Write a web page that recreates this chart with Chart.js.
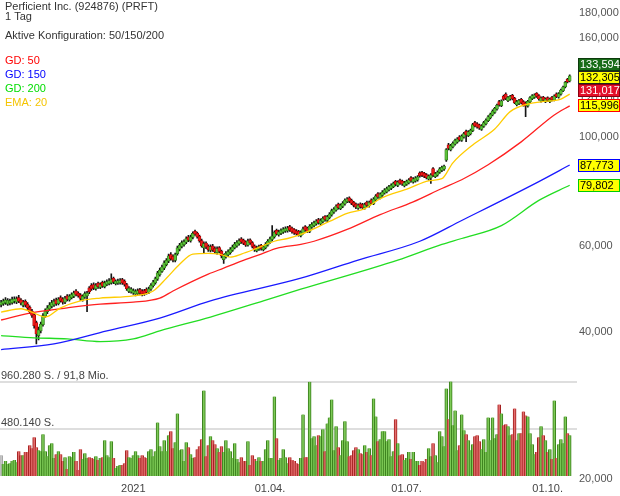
<!DOCTYPE html>
<html>
<head>
<meta charset="utf-8">
<script src="https://cdn.jsdelivr.net/npm/chart.js@4.4.0/dist/chart.umd.min.js"></script>
<style>
    html, body { margin: 0; padding: 0; background: #fff; }
    #wrap { width: 620px; height: 496px; position: relative; }
</style>
</head>
<body>
<div id="wrap"><canvas id="chart"></canvas></div>
<script>
// daily candles, oldest first
const opens = [
    45.4, 45.7, 45.9, 45.6, 45.8, 45.9, 46.2, 46.0, 47.0, 46.5,
    45.3, 46.2, 45.6, 44.9, 44.1, 43.4, 41.8, 39.3, 40.2, 41.4,
    43.1, 44.0, 44.6, 45.1, 45.4, 46.5, 45.7, 47.0, 46.7, 46.0,
    47.4, 46.5, 47.0, 47.3, 48.5, 48.0, 47.6, 46.5, 47.1, 47.4,
    49.2, 49.8, 50.0, 49.0, 50.3, 49.3, 50.5, 49.5, 50.0, 50.2,
    50.4, 51.5, 50.2, 50.3, 50.4, 51.2, 50.8, 50.0, 48.4, 48.3,
    48.0, 47.8, 47.9, 48.8, 48.5, 48.6, 48.9, 48.2, 48.9, 49.7,
    50.4, 51.3, 52.4, 53.2, 54.0, 54.9, 55.8, 57.6, 57.1, 56.0,
    57.8, 59.0, 59.8, 60.3, 61.0, 62.6, 61.4, 62.4, 64.2, 63.7,
    62.8, 61.5, 59.4, 60.8, 59.9, 58.7, 60.0, 59.3, 58.1, 59.5,
    58.5, 56.2, 57.0, 57.5, 58.1, 58.7, 59.5, 60.0, 60.6, 62.0,
    61.6, 61.1, 60.2, 61.7, 60.9, 60.0, 58.6, 59.0, 60.1, 58.9,
    59.4, 60.2, 61.0, 61.8, 62.6, 64.5, 63.2, 63.6, 64.0, 64.3,
    64.4, 65.7, 65.2, 64.8, 64.4, 64.2, 62.9, 63.7, 65.7, 65.2,
    64.2, 65.5, 66.0, 66.5, 67.9, 66.5, 67.2, 68.9, 67.6, 68.5,
    69.4, 70.3, 71.0, 73.0, 71.5, 72.2, 73.1, 73.9, 75.2, 74.4,
    73.6, 73.0, 71.6, 73.1, 72.9, 71.7, 73.7, 72.4, 74.5, 73.2,
    74.5, 76.7, 75.2, 76.1, 76.9, 77.4, 78.1, 78.6, 79.3, 81.3,
    79.7, 81.8, 81.4, 79.6, 80.1, 80.7, 82.7, 81.0, 81.4, 81.8,
    84.6, 84.8, 84.4, 83.9, 82.1, 82.6, 86.3, 83.1, 83.7, 84.8,
    85.6, 86.1, 89.8, 96.6, 94.3, 95.6, 96.9, 97.8, 100.3, 98.6,
    100.1, 102.9, 100.8, 101.7, 103.2, 107.2, 106.6, 106.0, 103.8, 105.3,
    106.6, 108.2, 109.6, 111.1, 112.5, 114.2, 118.4, 116.1, 121.4, 122.6,
    118.9, 119.8, 121.9, 120.2, 116.6, 117.3, 119.6, 118.3, 117.6, 115.9,
    118.2, 120.0, 120.7, 123.0, 121.8, 118.6, 120.9, 118.2, 120.6, 118.3,
    120.9, 119.2, 122.8, 120.8, 122.6, 124.5, 126.8, 131.4, 130.4
];
const highs = [
    46.4, 46.7, 47.0, 46.8, 46.7, 47.1, 47.2, 47.2, 47.5, 46.8,
    46.4, 46.5, 45.9, 45.2, 44.5, 43.7, 42.1, 40.9, 41.9, 43.6,
    44.6, 45.3, 45.9, 46.4, 46.7, 46.9, 47.0, 47.4, 47.0, 47.3,
    47.7, 47.7, 48.1, 48.5, 48.8, 48.3, 47.9, 47.6, 48.3, 48.4,
    49.5, 50.2, 50.4, 50.2, 50.6, 50.4, 50.8, 50.8, 51.1, 51.4,
    52.6, 51.8, 51.1, 51.3, 51.4, 51.5, 51.1, 50.3, 49.5, 49.3,
    49.0, 48.8, 49.0, 49.1, 48.8, 48.9, 49.2, 49.4, 50.2, 51.0,
    51.8, 53.2, 54.0, 54.8, 55.9, 56.5, 57.7, 58.1, 57.5, 58.0,
    59.9, 60.7, 61.4, 61.7, 62.6, 63.0, 63.1, 64.1, 64.6, 64.0,
    63.1, 61.9, 61.1, 61.1, 60.3, 60.3, 60.4, 59.7, 59.7, 59.8,
    58.8, 57.7, 58.4, 58.9, 59.5, 60.2, 61.0, 61.5, 62.0, 62.4,
    61.9, 61.4, 61.9, 62.0, 61.2, 60.3, 59.9, 60.2, 60.4, 60.1,
    60.9, 61.8, 62.5, 66.0, 64.4, 64.9, 64.6, 65.0, 65.4, 65.6,
    65.8, 66.1, 65.5, 65.1, 64.8, 64.5, 64.4, 65.5, 66.0, 65.5,
    66.3, 66.9, 67.4, 67.9, 68.3, 68.1, 68.8, 69.2, 69.3, 70.2,
    71.3, 71.8, 72.8, 73.4, 73.1, 73.9, 74.9, 75.3, 75.6, 74.8,
    74.0, 73.4, 73.1, 73.5, 73.3, 73.4, 74.1, 74.1, 74.9, 75.3,
    76.4, 77.1, 77.0, 77.8, 78.6, 79.1, 79.8, 80.3, 81.0, 81.7,
    81.5, 82.2, 81.8, 81.3, 81.8, 82.4, 83.1, 82.7, 83.1, 83.5,
    85.0, 85.2, 84.8, 84.3, 83.8, 84.3, 86.7, 84.8, 85.4, 86.7,
    87.3, 87.8, 94.9, 97.2, 96.8, 97.9, 99.2, 99.9, 100.8, 101.2,
    102.4, 103.5, 103.2, 104.0, 106.8, 107.8, 107.2, 106.5, 106.2, 107.8,
    109.1, 110.8, 112.1, 113.8, 115.2, 117.0, 119.0, 119.4, 122.0, 123.4,
    121.4, 121.9, 122.5, 120.7, 119.0, 119.6, 120.2, 118.9, 118.2, 119.1,
    121.2, 122.3, 122.8, 123.5, 122.3, 121.0, 121.4, 120.5, 121.1, 120.4,
    121.4, 122.2, 123.4, 123.5, 125.6, 127.4, 130.2, 132.0, 134.2
];
const lows = [
    45.0, 45.3, 45.5, 45.3, 45.4, 45.6, 45.8, 45.7, 45.9, 45.4,
    45.0, 45.0, 44.4, 43.6, 42.8, 40.7, 37.8, 38.5, 39.8, 41.1,
    42.8, 43.6, 44.2, 44.8, 45.1, 45.3, 45.4, 46.0, 45.6, 45.7,
    46.3, 46.2, 46.7, 47.0, 47.4, 47.1, 46.4, 46.2, 46.8, 44.0,
    47.9, 48.6, 48.8, 48.7, 49.1, 49.0, 49.3, 49.2, 49.7, 49.9,
    50.1, 50.2, 49.9, 50.0, 50.1, 50.0, 49.6, 48.6, 48.1, 48.0,
    47.7, 47.4, 47.6, 47.6, 47.4, 47.5, 47.8, 47.9, 48.6, 49.4,
    50.1, 51.0, 52.0, 52.9, 53.6, 54.6, 55.4, 56.1, 55.6, 55.6,
    57.4, 58.6, 59.4, 59.9, 60.6, 61.2, 61.0, 62.0, 63.0, 62.2,
    61.0, 59.6, 58.1, 59.2, 58.4, 58.3, 58.4, 57.8, 57.7, 58.0,
    56.7, 55.2, 56.6, 57.1, 57.7, 58.4, 59.1, 59.6, 60.2, 60.7,
    60.3, 59.8, 59.9, 60.4, 59.4, 58.4, 58.3, 58.7, 58.8, 58.6,
    59.1, 59.9, 60.7, 61.4, 62.2, 63.1, 62.8, 63.2, 63.6, 63.9,
    64.0, 64.2, 63.7, 63.3, 63.1, 62.8, 62.6, 63.4, 64.2, 63.8,
    63.8, 65.1, 65.6, 66.1, 66.4, 66.1, 66.8, 67.4, 67.2, 68.1,
    69.0, 69.9, 70.6, 71.3, 71.1, 71.8, 72.7, 73.5, 73.5, 72.8,
    72.1, 71.5, 71.2, 71.6, 71.3, 71.3, 72.1, 72.0, 72.8, 72.8,
    74.1, 75.0, 74.8, 75.7, 76.5, 77.0, 77.7, 78.2, 78.9, 79.6,
    79.3, 80.1, 79.7, 79.2, 79.7, 80.3, 81.0, 80.6, 81.0, 81.4,
    82.9, 83.1, 82.7, 82.2, 81.7, 80.5, 83.1, 82.7, 83.3, 84.4,
    85.1, 85.6, 89.3, 94.3, 93.8, 95.1, 96.4, 97.3, 98.2, 98.1,
    99.6, 98.0, 100.3, 101.2, 102.7, 105.0, 104.4, 103.8, 103.3, 104.8,
    106.1, 107.7, 109.1, 110.6, 112.0, 113.7, 115.8, 115.6, 119.0, 119.5,
    118.3, 119.2, 119.3, 117.2, 116.0, 116.7, 117.0, 115.8, 110.2, 115.3,
    117.6, 119.5, 120.2, 120.7, 119.2, 118.0, 118.6, 117.7, 118.4, 117.7,
    118.7, 118.7, 120.5, 120.3, 122.0, 124.0, 126.3, 129.3, 129.9
];
const closes = [
    46.0, 46.3, 46.5, 46.4, 46.3, 46.6, 46.7, 46.8, 46.2, 45.8,
    46.0, 45.4, 44.8, 44.0, 43.2, 41.2, 39.6, 40.4, 41.5, 43.2,
    44.1, 44.8, 45.4, 45.9, 46.2, 45.7, 46.6, 46.3, 46.0, 46.9,
    46.6, 47.3, 47.7, 48.1, 47.7, 47.4, 46.8, 47.3, 47.9, 48.0,
    48.3, 49.0, 49.2, 49.8, 49.5, 50.0, 49.6, 50.4, 50.7, 50.9,
    51.2, 50.6, 50.8, 50.9, 51.0, 50.4, 50.0, 49.0, 49.1, 48.9,
    48.6, 48.4, 48.6, 48.0, 47.8, 47.9, 48.2, 49.0, 49.8, 50.6,
    51.4, 52.8, 53.5, 54.3, 55.4, 56.0, 57.2, 56.5, 56.1, 57.6,
    59.4, 60.2, 60.9, 61.2, 62.1, 61.6, 62.6, 63.6, 63.4, 62.6,
    61.4, 60.0, 60.6, 59.6, 58.9, 59.8, 58.8, 58.3, 59.2, 58.4,
    57.2, 57.3, 57.9, 58.4, 59.0, 59.7, 60.5, 61.0, 61.5, 61.1,
    60.7, 60.2, 61.4, 60.8, 59.8, 58.9, 59.4, 59.8, 59.2, 59.7,
    60.4, 61.3, 62.0, 62.8, 63.9, 63.5, 64.1, 64.5, 64.9, 65.1,
    65.3, 64.6, 64.1, 63.7, 63.5, 63.2, 63.9, 65.0, 64.6, 64.2,
    65.8, 66.4, 66.9, 67.4, 66.9, 67.6, 68.3, 67.9, 68.8, 69.7,
    70.8, 71.3, 72.3, 71.8, 72.6, 73.4, 74.4, 74.8, 74.0, 73.3,
    72.6, 72.0, 72.6, 72.1, 71.8, 72.9, 72.6, 73.6, 73.3, 74.8,
    75.9, 75.5, 76.5, 77.3, 78.1, 78.6, 79.3, 79.8, 80.5, 80.1,
    81.0, 80.6, 80.2, 80.8, 81.3, 81.9, 81.5, 82.2, 82.6, 83.0,
    83.4, 83.6, 83.2, 82.7, 83.3, 83.8, 83.6, 84.3, 84.9, 86.2,
    86.8, 87.3, 94.4, 94.9, 96.2, 97.3, 98.6, 99.3, 98.8, 100.6,
    101.8, 101.2, 102.6, 103.4, 106.2, 105.6, 105.0, 104.4, 105.6, 107.2,
    108.5, 110.2, 111.5, 113.2, 114.6, 116.4, 116.5, 118.8, 119.6, 120.2,
    120.8, 121.3, 119.9, 117.8, 118.4, 119.0, 117.6, 116.4, 115.8, 118.5,
    120.6, 121.7, 122.2, 121.3, 119.8, 120.4, 119.2, 119.9, 119.0, 119.8,
    119.3, 121.6, 121.1, 122.9, 125.0, 126.8, 129.6, 129.9, 133.594
];
// volume in thousand shares
const volumesK = [
    212, 121, 152, 121, 131, 152, 162, 141, 253, 212,
    212, 243, 243, 313, 283, 394, 293, 263, 253, 424,
    253, 202, 313, 333, 182, 222, 253, 222, 152, 192,
    71, 202, 192, 243, 152, 61, 273, 172, 232, 182,
    192, 182, 172, 202, 162, 182, 192, 364, 212, 192,
    354, 182, 81, 101, 111, 111, 131, 263, 192, 182,
    212, 253, 212, 182, 212, 192, 182, 253, 273, 202,
    253, 545, 303, 253, 364, 253, 414, 455, 283, 343,
    636, 263, 273, 152, 343, 293, 222, 182, 192, 273,
    303, 374, 869, 202, 313, 404, 364, 323, 283, 243,
    303, 243, 364, 283, 253, 182, 333, 172, 141, 192,
    152, 152, 354, 111, 212, 172, 152, 192, 152, 152,
    273, 364, 182, 182, 808, 384, 162, 182, 273, 192,
    131, 192, 162, 152, 131, 121, 182, 626, 192, 192,
    958, 384, 404, 313, 414, 404, 475, 253, 535, 596,
    778, 263, 505, 293, 212, 364, 556, 354, 202, 212,
    263, 293, 273, 232, 222, 313, 243, 283, 212, 788,
    606, 354, 374, 455, 455, 354, 374, 202, 253, 576,
    333, 212, 222, 162, 182, 243, 172, 243, 152, 152,
    111, 152, 141, 172, 283, 202, 333, 212, 141, 455,
    404, 303, 889, 576, 960.28, 515, 667, 263, 313, 626,
    465, 424, 364, 263, 323, 404, 414, 354, 273, 374,
    243, 596, 364, 596, 384, 424, 727, 636, 515, 525,
    505, 414, 424, 687, 364, 434, 434, 657, 616, 606,
    434, 323, 222, 243, 394, 505, 414, 364, 243, 273,
    172, 768, 182, 323, 374, 333, 606, 434, 414
];

// moving averages, read at these candle indices
const gd50Idx = [0, 13, 30, 45, 60, 72, 78, 94, 101, 109, 118, 125, 136, 142, 157, 172, 187, 200, 209, 221, 236, 251, 258];
const gd50Val = [42.3, 43.7, 44.8, 45.6, 46.0, 46.9, 48.5, 52.5, 54.0, 55.8, 57.7, 59.3, 60.4, 61.3, 64.8, 69.5, 73.8, 78.6, 81.9, 87.9, 97.9, 111.1, 115.996];
const gd150Idx = [0, 24, 48, 72, 95, 136, 162, 190, 209, 244, 258];
const gd150Val = [36.8, 37.8, 40.2, 42.7, 46.3, 51.5, 56.1, 61.3, 67.6, 81.2, 87.773];
const gd200Idx = [0, 15, 30, 45, 60, 72, 95, 119, 136, 180, 200, 209, 227, 244, 258];
const gd200Val = [39.3, 38.9, 38.7, 38.2, 38.7, 40.2, 42.9, 46.3, 48.9, 56.1, 60.4, 62.1, 66.0, 74.3, 79.802];
const emaIdx = [0, 9, 15, 20, 27, 36, 45, 60, 69, 75, 81, 87, 94, 99, 104, 109, 116, 124, 130, 136, 149, 157, 165, 172, 185, 194, 200, 205, 214, 224, 231, 239, 245, 254, 258];
const emaVal = [43.9, 44.6, 43.7, 42.9, 44.8, 46.3, 46.9, 47.4, 48.5, 51.5, 55.0, 57.7, 57.9, 57.7, 56.9, 57.7, 59.3, 61.3, 62.1, 63.3, 67.3, 69.9, 71.5, 74.9, 78.6, 81.5, 82.3, 88.7, 96.5, 104.0, 112.9, 117.0, 118.2, 119.8, 122.6];

const xTickIdx = [60, 122, 184, 248];
const xTickText = ['2021', '01.04.', '01.07.', '01.10.'];
const yTicks = [20, 40, 60, 80, 100, 120, 140, 160, 180];

const volGuides = [480140, 960280];
const volGuideText = ['480.140 S.', '960.280 S. / 91,8 Mio.'];

const boxVals = [133.594, 132.305, 131.017, 115.996, 87.773, 79.802];
const boxFill = ['#186c18', '#ffff00', '#e3102a', '#ffff00', '#ffff00', '#ffff00'];
const boxLine = ['#0c3a0c', '#222222', '#8a0010', '#ff0000', '#0000ff', '#00cc00'];
const boxInk = ['#ffffff', '#000000', '#ffffff', '#000000', '#000000', '#000000'];

const headText = ['Perficient Inc. (924876) (PRFT)', '1 Tag', 'Aktive Konfiguration: 50/150/200', 'GD: 50', 'GD: 150', 'GD: 200', 'EMA: 20'];
const headColor = ['#333', '#333', '#333', '#ff0000', '#0000ff', '#00dd00', '#f5c400'];
const headY = [7, 17, 36, 61, 75, 89, 103];

const FONT = '"Liberation Sans", Arial, sans-serif';
const N = closes.length;
const up = closes.map((c, i) => c >= opens[i]);
const fmt = v => Number(v).toFixed(3).replace('.', ',');

function pts(idx, vals) {
    return idx.map((x, k) => ({ x: x, y: vals[k] }));
}

function maLine(label, idx, vals, color) {
    return {
        type: 'line',
        label: label,
        data: pts(idx, vals),
        borderColor: color,
        borderWidth: 1.3,
        pointRadius: 0,
        cubicInterpolationMode: 'monotone',
        yAxisID: 'y',
        order: 0
    };
}

// volume axis: 0 sits 3px above the bottom, the upper guide 95px above it
const plotH = 469;
const volPx = 95 / volGuides[1];

const overlay = {
    id: 'overlay',
    beforeDatasetsDraw(chart) {
        const { ctx, chartArea } = chart;
        const yv = chart.scales.yv;
        ctx.save();
        ctx.font = '11px ' + FONT;
        ctx.textBaseline = 'bottom';
        volGuides.forEach((v, k) => {
            const y = Math.round(yv.getPixelForValue(v));
            ctx.strokeStyle = '#dedede';
            ctx.lineWidth = 2;
            ctx.beginPath();
            ctx.moveTo(0, y);
            ctx.lineTo(chartArea.right + 4, y);
            ctx.stroke();
            ctx.fillStyle = '#444';
            ctx.fillText(volGuideText[k], 1, y - 1);
        });
        ctx.restore();
    },
    afterDraw(chart) {
        const { ctx } = chart;
        const ys = chart.scales.y;
        ctx.save();
        ctx.font = '11px ' + FONT;
        ctx.textBaseline = 'middle';
        headText.forEach((t, k) => {
            ctx.fillStyle = headColor[k];
            ctx.fillText(t, 5, headY[k]);
        });

        // price boxes, pushed apart where they would overlap
        const h = 13;
        const items = boxVals.map((v, k) => ({ k: k, y: ys.getPixelForValue(v) })).sort((a, b) => a.y - b.y);
        const groups = items.map(it => ({ list: [it] }));
        const mid = g => g.list.reduce((s, it) => s + it.y, 0) / g.list.length;
        let again = true;
        while (again) {
            again = false;
            for (let k = 1; k < groups.length; k++) {
                const a = groups[k - 1], b = groups[k];
                if (mid(b) - b.list.length * h / 2 < mid(a) + a.list.length * h / 2) {
                    a.list = a.list.concat(b.list);
                    groups.splice(k, 1);
                    again = true;
                    break;
                }
            }
        }
        groups.forEach(g => {
            const top = mid(g) - g.list.length * h / 2;
            g.list.forEach((it, j) => {
                const by = Math.round(top + j * h);
                const k = it.k;
                ctx.fillStyle = boxFill[k];
                ctx.fillRect(578, by, 42, h);
                ctx.strokeStyle = boxLine[k];
                ctx.lineWidth = 1;
                ctx.strokeRect(578.5, by + 0.5, 41, h - 1);
                ctx.fillStyle = boxInk[k];
                ctx.fillText(fmt(boxVals[k]), 580, by + h / 2 + 0.5);
            });
        });
        ctx.restore();
    }
};

const ctx = document.getElementById('chart').getContext('2d');
new Chart(ctx, {
    type: 'bar',
    data: {
        datasets: [
            maLine('EMA 20', emaIdx, emaVal, '#ffcc00'),
            maLine('GD 50', gd50Idx, gd50Val, '#ff2020'),
            maLine('GD 150', gd150Idx, gd150Val, '#1a1aff'),
            maLine('GD 200', gd200Idx, gd200Val, '#22dd22'),
            {
                label: 'body',
                data: opens.map((o, i) => ({ x: i, y: [o, closes[i]] })),
                backgroundColor: up.map(u => u ? '#5cc23a' : '#ee1a1a'),
                borderColor: up.map(u => u ? '#2b7413' : '#a30000'),
                borderWidth: 0.7,
                borderSkipped: false,
                barThickness: 3,
                grouped: false,
                yAxisID: 'y',
                order: 1
            },
            {
                label: 'wick',
                data: lows.map((l, i) => ({ x: i, y: [l, highs[i]] })),
                backgroundColor: '#151515',
                barThickness: 1,
                grouped: false,
                yAxisID: 'y',
                order: 2
            },
            {
                label: 'volume',
                data: volumesK.map((v, i) => ({ x: i, y: v * 1000 })),
                backgroundColor: up.map((u, i) => i === 0 ? '#c8c8c8' : (u ? 'rgba(125,205,85,0.9)' : 'rgba(232,110,110,0.9)')),
                borderColor: up.map((u, i) => i === 0 ? '#999' : (u ? '#3a7f1c' : '#a32020')),
                borderWidth: { left: 1, right: 1, top: 0, bottom: 0 },
                barThickness: 3,
                grouped: false,
                yAxisID: 'yv',
                order: 3
            }
        ]
    },
    options: {
        responsive: true,
        maintainAspectRatio: false,
        animation: false,
        devicePixelRatio: 1,
        layout: { padding: { top: 10, left: 0, right: 0, bottom: 0 } },
        plugins: {
            legend: { display: false },
            tooltip: { enabled: false }
        },
        scales: {
            x: {
                type: 'linear',
                offset: false,
                min: -0.5,
                max: N + 0.5,
                grid: { display: false, drawTicks: false },
                border: { display: false },
                afterBuildTicks: s => { s.ticks = xTickIdx.map(v => ({ value: v })); },
                afterFit: s => { s.height = 17; },
                ticks: {
                    autoSkip: false,
                    maxRotation: 0,
                    padding: 3,
                    color: '#444',
                    font: { family: FONT, size: 11 },
                    callback: v => {
                        const k = xTickIdx.indexOf(v);
                        return k >= 0 ? xTickText[k] : '';
                    }
                }
            },
            y: {
                type: 'logarithmic',
                position: 'right',
                min: 20,
                max: 180,
                grid: { display: false, drawTicks: false },
                border: { display: false },
                afterBuildTicks: s => { s.ticks = yTicks.map(v => ({ value: v })); },
                afterFit: s => { s.width = 47; },
                ticks: {
                    autoSkip: false,
                    padding: 6,
                    color: '#555',
                    font: { family: FONT, size: 11 },
                    callback: v => fmt(v)
                }
            },
            yv: {
                type: 'linear',
                display: false,
                min: -3 / volPx,
                max: (plotH - 3) / volPx
            }
        }
    },
    plugins: [overlay]
});
</script>
</body>
</html>
